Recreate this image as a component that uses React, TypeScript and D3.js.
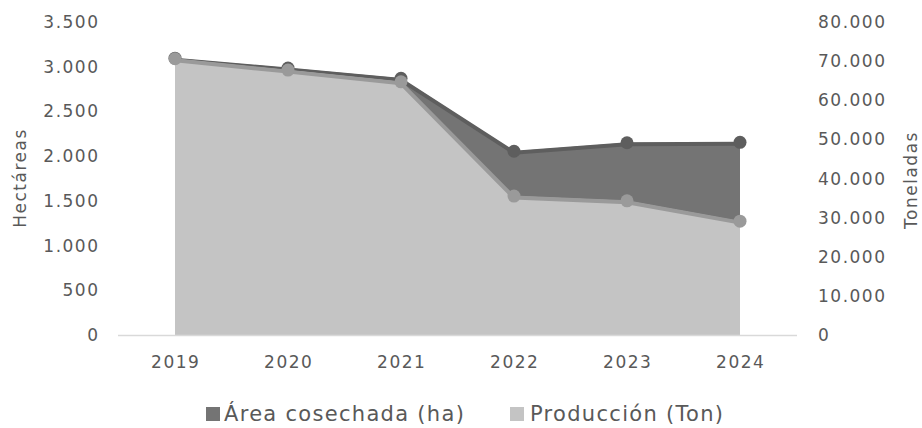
import * as d3 from 'd3'

const years = ['2019', '2020', '2021', '2022', '2023', '2024']
const areaHa = [3095, 2985, 2870, 2055, 2150, 2155]
const produccionTon = [70600, 67700, 64700, 35500, 34300, 29100]
const leftTicks = [0, 500, 1000, 1500, 2000, 2500, 3000, 3500]
const rightTicks = [0, 10000, 20000, 30000, 40000, 50000, 60000, 70000, 80000]

const W = 922
const H = 428
const font = "'DejaVu Sans', sans-serif"
const txt = '#595959'

const fmt = (v: number) => d3.format(',')(v).replace(/,/g, '.')

export default function App() {
  const x = d3.scaleBand<string>().domain(years).range([118.5, 796.5])
  const cx = (i: number) => (x(years[i]) as number) + x.bandwidth() / 2
  const yL = d3.scaleLinear().domain([0, 3500]).range([335, 22])
  const yR = d3.scaleLinear().domain([0, 80000]).range([335, 22])

  const areaDark = d3.area<number>().x((d, i) => cx(i)).y0(yL(0)).y1(d => yL(d))
  const lineDark = d3.line<number>().x((d, i) => cx(i)).y(d => yL(d))
  const areaLight = d3.area<number>().x((d, i) => cx(i)).y0(yR(0)).y1(d => yR(d))
  const lineLight = d3.line<number>().x((d, i) => cx(i)).y(d => yR(d))

  return (
    <svg width={W} height={H} style={{ position: 'absolute', left: 0, top: 0, background: '#fff' }} fontFamily={font}>
      {/* area cosechada, left axis */}
      <path d={areaDark(areaHa) ?? ''} fill="#747474" />
      <path d={lineDark(areaHa) ?? ''} fill="none" stroke="#5e5e5e" strokeWidth={4} transform="translate(0,1.5)" />
      {areaHa.map((d, i) => (
        <circle key={'d' + i} cx={cx(i)} cy={yL(d)} r={6.5} fill="#5e5e5e" />
      ))}

      {/* produccion, right axis */}
      <path d={areaLight(produccionTon) ?? ''} fill="#c4c4c4" />
      <path d={lineLight(produccionTon) ?? ''} fill="none" stroke="#9a9a9a" strokeWidth={4} transform="translate(0,1.5)" />
      {produccionTon.map((d, i) => (
        <circle key={'l' + i} cx={cx(i)} cy={yR(d)} r={6.5} fill="#9a9a9a" />
      ))}

      {/* x axis */}
      <line x1={118} x2={797} y1={335.5} y2={335.5} stroke="#d9d9d9" strokeWidth={1.5} />
      {years.map((yr, i) => (
        <text key={yr} x={cx(i) + 0.75} y={368} textAnchor="middle" fontSize={17} letterSpacing={1.5} fill={txt}>{yr}</text>
      ))}

      {/* left axis */}
      {leftTicks.map(t => (
        <text key={t} x={99.5} y={yL(t) + 6} textAnchor="end" fontSize={17} letterSpacing={1.5} fill={txt}>{fmt(t)}</text>
      ))}
      <text transform={`translate(26,178) rotate(-90)`} textAnchor="middle" fontSize={17} letterSpacing={1.5} fill={txt}>Hectáreas</text>

      {/* right axis */}
      {rightTicks.map(t => (
        <text key={t} x={818} y={yR(t) + 6} textAnchor="start" fontSize={17} letterSpacing={1.5} fill={txt}>{fmt(t)}</text>
      ))}
      <text transform={`translate(917,180) rotate(-90)`} textAnchor="middle" fontSize={17} letterSpacing={1.5} fill={txt}>Toneladas</text>

      {/* legend */}
      <rect x={206} y={407} width={14} height={14} fill="#747474" />
      <text x={224} y={421} fontSize={21} letterSpacing={1.3} fill={txt}>Área cosechada (ha)</text>
      <rect x={510} y={407} width={14} height={14} fill="#c4c4c4" />
      <text x={530} y={421} fontSize={21} letterSpacing={1.3} fill={txt}>Producción (Ton)</text>
    </svg>
  )
}
